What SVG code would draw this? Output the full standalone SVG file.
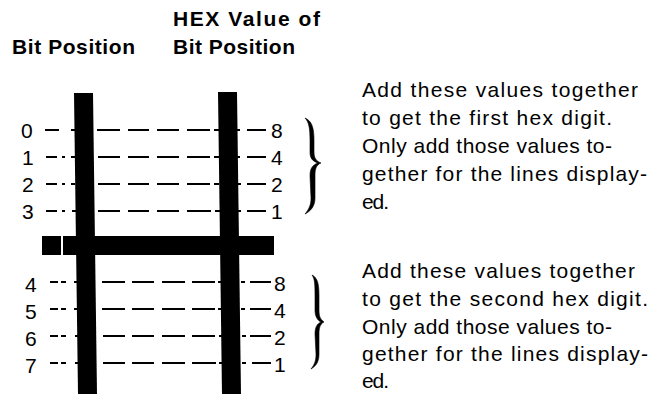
<svg xmlns="http://www.w3.org/2000/svg" width="653" height="394" viewBox="0 0 653 394">
<style>
.hd{font-family:"Liberation Sans",Arial,sans-serif;font-weight:bold;font-size:21px;fill:#000}
.dg{font-family:"Liberation Sans",Arial,sans-serif;font-size:21px;fill:#000}
.tx{font-family:"Liberation Sans",Arial,sans-serif;font-size:21px;fill:#000}
.ds{stroke:#000;stroke-width:2;fill:none}
.br{fill:#000;stroke:#000;stroke-width:0.6}
</style>
<rect width="653" height="394" fill="#fff"/>
<g id="headers">
<text class="hd" x="12" y="54" textLength="123">Bit Position</text>
<text class="hd" x="173" y="26" textLength="147">HEX Value of</text>
<text class="hd" x="173" y="54" textLength="122">Bit Position</text>
</g>
<g id="bars">
<polygon points="74,93 93,93 97,394 78,394"/>
<polygon points="218,92 237,92 241,394 222,394"/>
<rect x="42" y="236" width="19" height="19"/>
<rect x="63" y="236" width="211" height="19"/>
</g>
<g id="connectors">
<path class="ds" d="M45,130H59M71,130H75M97,130H120M128,130H149M157,130H179M187,130H210M214,130H219M236,130H240M247,130H266"/>
<path class="ds" d="M46,157H57M62,157H65M71,157H75M98,157H120M128,157H149M157,157H179M187,157H210M214,157H219M236,157H240M247,157H266"/>
<path class="ds" d="M46,184H57M62,184H65M71,184H75M98,184H120M128,184H149M157,184H179M187,184H210M214,184H219M237,184H241M247,184H266"/>
<path class="ds" d="M46,211H57M62,211H65M72,211H76M98,211H120M128,211H149M157,211H179M187,211H211M215,211H220M237,211H241M247,211H266"/>
<path class="ds" d="M50,282H58M61,282H66M74,282H78M102,282H125M132,282H154M162,282H185M192,282H215M218,282H223M241,282H245M250,282H271"/>
<path class="ds" d="M50,309H58M61,309H66M74,309H78M102,309H125M132,309H154M162,309H185M192,309H215M218,309H223M241,309H245M250,309H271"/>
<path class="ds" d="M50,336H58M61,336H66M75,336H79M103,336H125M132,336H154M162,336H185M192,336H215M219,336H224M242,336H246M250,336H271"/>
<path class="ds" d="M50,363H58M61,363H66M75,363H79M103,363H125M132,363H154M162,363H185M192,363H216M219,363H224M242,363H246M252,363H271"/>
</g>
<g id="bit-labels">
<text class="dg" x="21" y="138">0</text>
<text class="dg" x="22" y="165">1</text>
<text class="dg" x="22" y="192">2</text>
<text class="dg" x="22" y="219">3</text>
<text class="dg" x="25" y="292">4</text>
<text class="dg" x="25" y="319">5</text>
<text class="dg" x="25" y="346">6</text>
<text class="dg" x="25" y="373">7</text>
</g>
<g id="hex-labels">
<text class="dg" x="271" y="138">8</text>
<text class="dg" x="271" y="165">4</text>
<text class="dg" x="271" y="192">2</text>
<text class="dg" x="271" y="219">1</text>
<text class="dg" x="274" y="291">8</text>
<text class="dg" x="274" y="318">4</text>
<text class="dg" x="274" y="345">2</text>
<text class="dg" x="274" y="372">1</text>
</g>
<g id="brace-1">
<path class="br" d="M305,118C312,121 314,128 314,140L314,152C314,158 316,161 321,163C316,165 315,169 315,176L315,198C315,206 311,211 305,214C309,209 311,205 311,198L310,176C310,169 312,165 318,163C312,161 310,158 310,152L310,140C310,129 309,122 305,118Z"/>
</g>
<g id="brace-2">
<path class="br" d="M312,275C318,278 319,285 319,296L319,310C319,316 320,319 324,322C320,324 319,328 319,334L319,354C319,362 316,366 311,369C315,364 316,360 316,354L315,334C315,327 317,324 321,322C317,320 315,316 315,310L315,296C315,286 315,279 312,275Z"/>
</g>
<g id="note-1">
<text class="tx" x="362" y="97" textLength="276">Add these values together</text>
<text class="tx" x="362" y="125" textLength="250">to get the first hex digit.</text>
<text class="tx" x="362" y="153" textLength="250">Only add those values to-</text>
<text class="tx" x="362" y="181" textLength="285">gether for the lines display-</text>
<text class="tx" x="362" y="209" textLength="27">ed.</text>
</g>
<g id="note-2">
<text class="tx" x="362" y="278" textLength="273">Add these values together</text>
<text class="tx" x="362" y="306" textLength="286">to get the second hex digit.</text>
<text class="tx" x="362" y="334" textLength="250">Only add those values to-</text>
<text class="tx" x="362" y="361" textLength="286">gether for the lines display-</text>
<text class="tx" x="362" y="388" textLength="27">ed.</text>
</g>
</svg>
